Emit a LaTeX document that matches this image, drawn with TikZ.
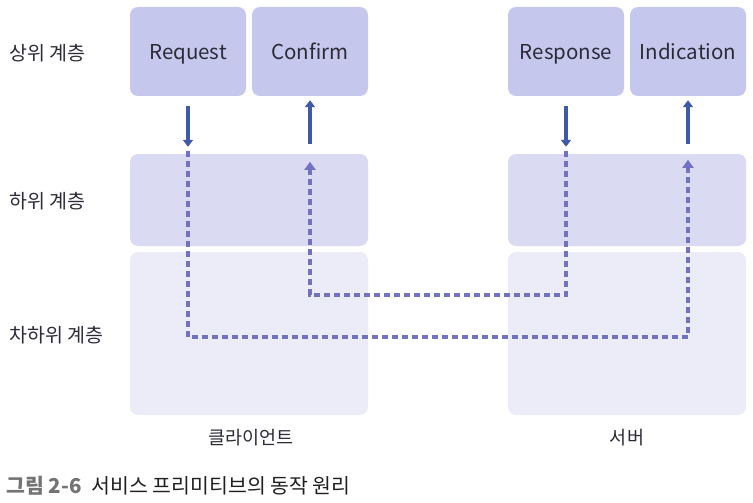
\documentclass[tikz,border=0pt]{standalone}
\usepackage{fontspec}
\setmainfont{Noto Sans CJK KR}
\usetikzlibrary{arrows.meta}
\definecolor{primfill}{HTML}{C6C7EC}
\definecolor{lowfill}{HTML}{DADAF3}
\definecolor{lowestfill}{HTML}{ECECF8}
\definecolor{svcblue}{HTML}{3F5AA9}
\definecolor{flowblue}{HTML}{7272C0}
\definecolor{ink}{HTML}{2B2B38}

\begin{document}
\begin{tikzpicture}[x=1pt,y=-1pt,font=\fontsize{18.5}{22}\selectfont,
 prim/.style={fill=primfill,rounded corners=8pt,minimum width=116pt,
   minimum height=89pt,inner sep=0pt,text=ink,text height=20pt,text depth=4pt,
   font=\fontsize{20.5}{24}\selectfont},
 band/.style={rounded corners=8pt,minimum width=238pt,inner sep=0pt},
 % Service primitive arrows between a layer and the one below it.
 svc/.style={svcblue,line width=3.6pt,-{Triangle[length=7pt,width=10pt]}},
 % Dashed route of the message through the lower layers.
 flow/.style={flowblue,line width=3.6pt,dash pattern=on 6pt off 4pt,
   -{Triangle[length=8pt,width=11pt]}},
 tag/.style={anchor=west,text=ink,font=\fontsize{19.5}{23}\selectfont}]
\useasboundingbox (0,0) rectangle (753,503);

% Upper layer primitives
\node[prim] (req)  at (188,51.5) {Request};
\node[prim] (conf) at (310,51.5) {Confirm};
\node[prim] (resp) at (566,51.5) {Response};
\node[prim] (ind)  at (688,51.5) {Indication};

% Lower and next-lower layers
\node[band,fill=lowfill,minimum height=92pt] (cmid) at (249,200) {};
\node[band,fill=lowfill,minimum height=92pt] (smid) at (627,200) {};
\node[band,fill=lowestfill,minimum height=163pt] (cbot) at (249,333.5) {};
\node[band,fill=lowestfill,minimum height=163pt] (sbot) at (627,333.5) {};

\node[tag] (upper)  at (6,53)  {상위 계층};
\node[tag] (lower)  at (6,201) {하위 계층};
\node[tag] (lowest) at (6,335) {차하위 계층};

\node[text=ink] (client) at (251,438) {클라이언트};
\node[text=ink] (server) at (627,438) {서버};

\draw[svc,shorten <=10pt,shorten >=7pt] (req.south) -- (req.south |- cmid.north);
\draw[svc,shorten <=10pt,shorten >=4pt] (conf.south |- cmid.north) -- (conf.south);
\draw[svc,shorten <=10pt,shorten >=7pt] (resp.south) -- (resp.south |- smid.north);
\draw[svc,shorten <=10pt,shorten >=4pt] (ind.south |- smid.north) -- (ind.south);

\coordinate (reqlane) at (0,337);
\coordinate (resplane) at (0,295);
\draw[flow,shorten <=-3pt,shorten >=6pt] (req.south |- cmid.north)
  -- (req.south |- reqlane) -- (ind.south |- reqlane) -- (ind.south |- smid.north);
\draw[flow,shorten <=-3pt,shorten >=8pt] (resp.south |- smid.north)
  -- (resp.south |- resplane) -- (conf.south |- resplane) -- (conf.south |- cmid.north);

\node[anchor=west,font=\fontsize{20.5}{24}\selectfont] (caption) at (3,486)
  {\textcolor{black!55}{\bfseries 그림 2-6}\hspace{10pt}\textcolor{black!88}{서비스 프리미티브의 동작 원리}};
\end{tikzpicture}
\end{document}
